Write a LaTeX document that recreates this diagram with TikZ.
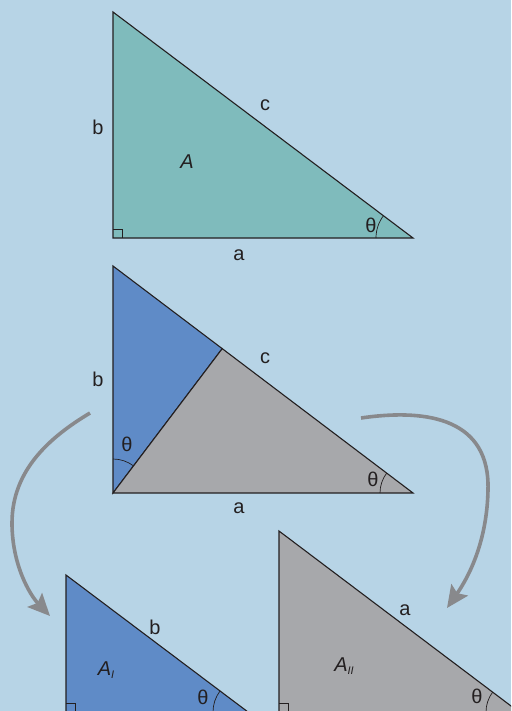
\documentclass[tikz,border=0pt]{standalone}
\usepackage{fontspec}
\setmainfont{Liberation Sans}
\usepackage{tikz}
\usetikzlibrary{
	arrows.meta,
	positioning,
	calc
}
\usepackage{xcolor}
\definecolor{bgblue}{HTML}{B7D4E6}
\definecolor{tealfill}{HTML}{7FBBBC}
\definecolor{bluefill}{HTML}{5F8BC7}
\definecolor{grayfill}{HTML}{A7A8AB}
\definecolor{arrowgray}{HTML}{88898C}
\definecolor{ink}{HTML}{231F20}
\newcommand{\sub}[1]{\raisebox{-3pt}{\fontsize{11}{13}\selectfont\textit{#1}}}

\begin{document}
\begin{tikzpicture}[x=1pt,y=-1pt,>={Stealth[length=22pt,width=20pt,inset=4pt]},
	lbl/.style={text=ink,font=\fontsize{20}{24}\selectfont,inner sep=0pt},
	tri/.style={draw=ink,line width=1.1pt},
	rtmark/.style={draw=ink,line width=0.7pt},
	angarc/.style={draw=ink,line width=0.7pt},
	turn/.style={->,draw=arrowgray,line width=3.6pt}]
			
			\useasboundingbox (0,0) rectangle (511,711);
			\clip (0,0) rectangle (511,711);
			\fill[bgblue] (0,0) rectangle (511,711);
			
			\coordinate (tA) at (113,12);
			\coordinate (tC) at (113,238);
			\coordinate (tB) at (413,238);
			\filldraw[tri,fill=tealfill] (tA)--(tC)--(tB)--cycle;
			\draw[rtmark] ($(tC)+(0,-9)$) -| ($(tC)+(9,0)$);
			\draw[angarc] ($(tB)+(-37,0)$) arc[start angle=180,end angle=143,radius=37pt];
			
			\node[lbl] (tb) at (98,127) {b};
			\node[lbl] (tc) at (265,105) {c};
			\node[lbl] (ta) at (239,255) {a};
			\node[lbl] (tarea) at (187,162) {\textit{A}};
			\node[lbl] (tth) at (371,225) {θ};
			
			\coordinate (mA) at (113,266);
			\coordinate (mC) at (113,493);
			\coordinate (mB) at (413,493);
			\coordinate (mF) at ($(mA)!(mC)!(mB)$);
			\filldraw[tri,fill=bluefill] (mA)--(mF)--(mC)--cycle;
			\filldraw[tri,fill=grayfill] (mF)--(mB)--(mC)--cycle;
			\draw[angarc] ($(mC)+(0,-34)$) arc[start angle=90,end angle=53,radius=34pt];
			\draw[angarc] ($(mB)+(-33,0)$) arc[start angle=180,end angle=143,radius=33pt];
			
			\node[lbl] (mb) at (98,379) {b};
			\node[lbl] (mc) at (265,358) {c};
			\node[lbl] (ma) at (239,508) {a};
			\node[lbl] (mthl) at (127,444) {θ};
			\node[lbl] (mthr) at (373,479) {θ};
			
			\coordinate (lA) at (66,575);
			\coordinate (lC) at (66,712);
			\coordinate (lB) at (248,712);
			\filldraw[tri,fill=bluefill] (lA)--(lC)--(lB)--cycle;
			\draw[rtmark] ($(lC)+(0,-9)$) -| ($(lC)+(9,0)$);
			\draw[angarc] ($(lB)+(-35,0)$) arc[start angle=180,end angle=143,radius=35pt];
			
			\node[lbl] (lb) at (155,627) {b};
			\node[lbl] (larea) at (106,670) {\textit{A}\sub{I}};
			\node[lbl] (lth) at (203,697) {θ};
			
			\coordinate (rA) at (279,531);
			\coordinate (rC) at (279,712);
			\coordinate (rB) at (519,712);
			\filldraw[tri,fill=grayfill] (rA)--(rC)--(rB)--cycle;
			\draw[rtmark] ($(rC)+(0,-9)$) -| ($(rC)+(9,0)$);
			\draw[angarc] ($(rB)+(-33,0)$) arc[start angle=180,end angle=143,radius=33pt];
			
			\node[lbl] (ra) at (405,610) {a};
			\node[lbl] (rarea) at (344,666) {\textit{A}\sub{II}};
			\node[lbl] (rth) at (477,696) {θ};
			
			\coordinate (lfrom) at (90,413);
			\coordinate (lto) at (50,616);
			\coordinate (rfrom) at (361,418);
			\coordinate (rto) at (447,608);
			
			\draw[turn] (lfrom) .. controls (50,437) and (12,470) .. (12,523)
			.. controls (12,565) and (30,595) .. (lto);
			
			\draw[turn] (rfrom) .. controls (430,408) and (490,420) .. (488,490)
			.. controls (487,540) and (470,575) .. (rto);
			
		\end{tikzpicture}
\end{document}
